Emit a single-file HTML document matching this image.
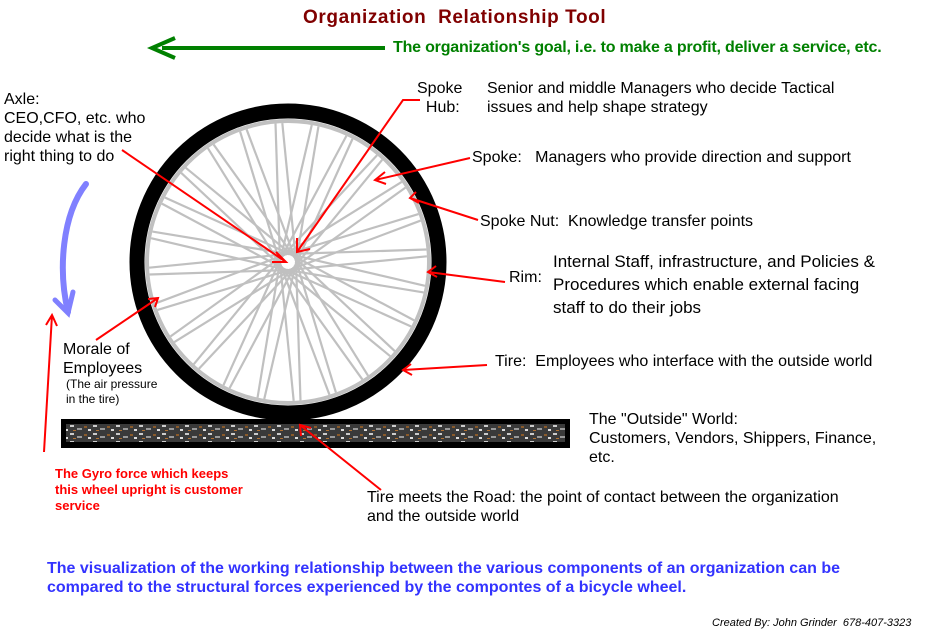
<!DOCTYPE html>
<html><head><meta charset="utf-8"><style>
body{margin:0;width:932px;height:640px;background:#fff;position:relative;overflow:hidden;font-family:"Liberation Sans",Arial,sans-serif}
.t{position:absolute;white-space:nowrap;color:#000;font-size:16px;line-height:19px}
</style></head><body>
<svg width="932" height="640" style="position:absolute;left:0;top:0">
<defs>
<pattern id="road" width="23" height="8" patternUnits="userSpaceOnUse">
<rect width="23" height="8" fill="#3a3a3a"/>
<rect x="1" y="1" width="4" height="2" fill="#ccc"/><rect x="8" y="4" width="5" height="2" fill="#999"/>
<rect x="15" y="2" width="3" height="2" fill="#8a5a2a"/><rect x="19" y="5" width="3" height="2" fill="#ddd"/>
<rect x="4" y="6" width="3" height="1" fill="#b07030"/>
</pattern>
</defs>
<rect x="61" y="419" width="509" height="29" fill="#000"/>
<rect x="66" y="424" width="499" height="18" fill="url(#road)"/>
<circle cx="288" cy="262" r="151" fill="none" stroke="#000" stroke-width="15"/>
<circle cx="288" cy="262" r="141" fill="none" stroke="#c0c0c0" stroke-width="4"/>
<g id="sp" stroke="#c0c0c0" stroke-width="2.2"></g>
<g stroke="red" stroke-width="2" fill="none">
<path d="M122,150 L286,262 M276,252 L286,262 L272,262"/>
<path d="M420,100 L403,100 L297,252 M297,238 L297,252 L310,249"/>
<path d="M470,158 L375,180 M385,172 L375,180 L386,184"/>
<path d="M478,220 L410,198 M416,192 L410,198 L419,203"/>
<path d="M505,282 L428,272 M436,266 L428,272 L437,277"/>
<path d="M487,365 L403,370 M411,364 L403,370 L412,375"/>
<path d="M96,340 L158,298 M148,299 L158,298 L155,307"/>
<path d="M381,490 L300,425 M301,436 L300,425 L311,428"/>
<path d="M44,452 L52,315 M46,325 L52,315 L57,326"/>
</g>
<path d="M86,184 C62,215 58,270 68,312" stroke="#8080ff" stroke-width="6" fill="none" stroke-linecap="round"/>
<path d="M55,300 L68,313 L73,292" stroke="#8080ff" stroke-width="5" fill="none" stroke-linecap="round"/>
<path d="M385,48 L162,48" stroke="#008000" stroke-width="4"/>
<path d="M175,38 L152,48 L175,58" stroke="#008000" stroke-width="4" fill="none"/>
</svg>
<script>
var g=document.getElementById('sp'),s='';
for(var i=0;i<48;i++){var a=i*Math.PI*2/48,o=(i%2?0.09:-0.09);
var x1=288+8*Math.cos(a+1.57*(i%2?1:-1)),y1=262+8*Math.sin(a+1.57*(i%2?1:-1));
var x2=288+139*Math.cos(a+o),y2=262+139*Math.sin(a+o);
s+='<line x1="'+x1+'" y1="'+y1+'" x2="'+x2+'" y2="'+y2+'"/>';}
g.innerHTML=s;
</script>
<div class="t" style="left:303px;top:8px;font-size:19px;font-weight:bold;color:#800000;letter-spacing:0.6px">Organization&nbsp; Relationship Tool</div>
<div class="t" style="left:393px;top:38px;font-size:16px;font-weight:bold;color:#008000;letter-spacing:-0.2px">The organization's goal, i.e. to make a profit, deliver a service, etc.</div>
<div class="t" style="left:4px;top:90px">Axle:<br>CEO,CFO, etc. who<br>decide what is the<br>right thing to do</div>
<div class="t" style="left:417px;top:79px">Spoke<br>&nbsp;&nbsp;Hub:</div>
<div class="t" style="left:487px;top:79px">Senior and middle Managers who decide Tactical<br>issues and help shape strategy</div>
<div class="t" style="left:472px;top:148px">Spoke:&nbsp;&nbsp; Managers who provide direction and support</div>
<div class="t" style="left:480px;top:212px">Spoke Nut:&nbsp; Knowledge transfer points</div>
<div class="t" style="left:509px;top:268px">Rim:</div>
<div class="t" style="left:553px;top:250px;font-size:17px;line-height:23px">Internal Staff, infrastructure, and Policies &amp;<br>Procedures which enable external facing<br>staff to do their jobs</div>
<div class="t" style="left:495px;top:352px">Tire:&nbsp; Employees who interface with the outside world</div>
<div class="t" style="left:63px;top:340px">Morale of<br>Employees</div>
<div class="t" style="left:66px;top:377px;font-size:12px;line-height:15px">(The air pressure<br>in the tire)</div>
<div class="t" style="left:589px;top:410px">The "Outside" World:<br>Customers, Vendors, Shippers, Finance,<br>etc.</div>
<div class="t" style="left:55px;top:466px;font-size:13px;line-height:16px;font-weight:bold;color:#ff0000">The Gyro force which keeps<br>this wheel upright is customer<br>service</div>
<div class="t" style="left:367px;top:488px">Tire meets the Road: the point of contact between the organization<br>and the outside world</div>
<div class="t" style="left:47px;top:559px;font-size:16px;font-weight:bold;color:#3333ff">The visualization of the working relationship between the various components of an organization can be<br>compared to the structural forces experienced by the compontes of a bicycle wheel.</div>
<div class="t" style="left:712px;top:614px;font-size:11px;font-style:italic">Created By: John Grinder&nbsp; 678-407-3323</div>
</body></html>
